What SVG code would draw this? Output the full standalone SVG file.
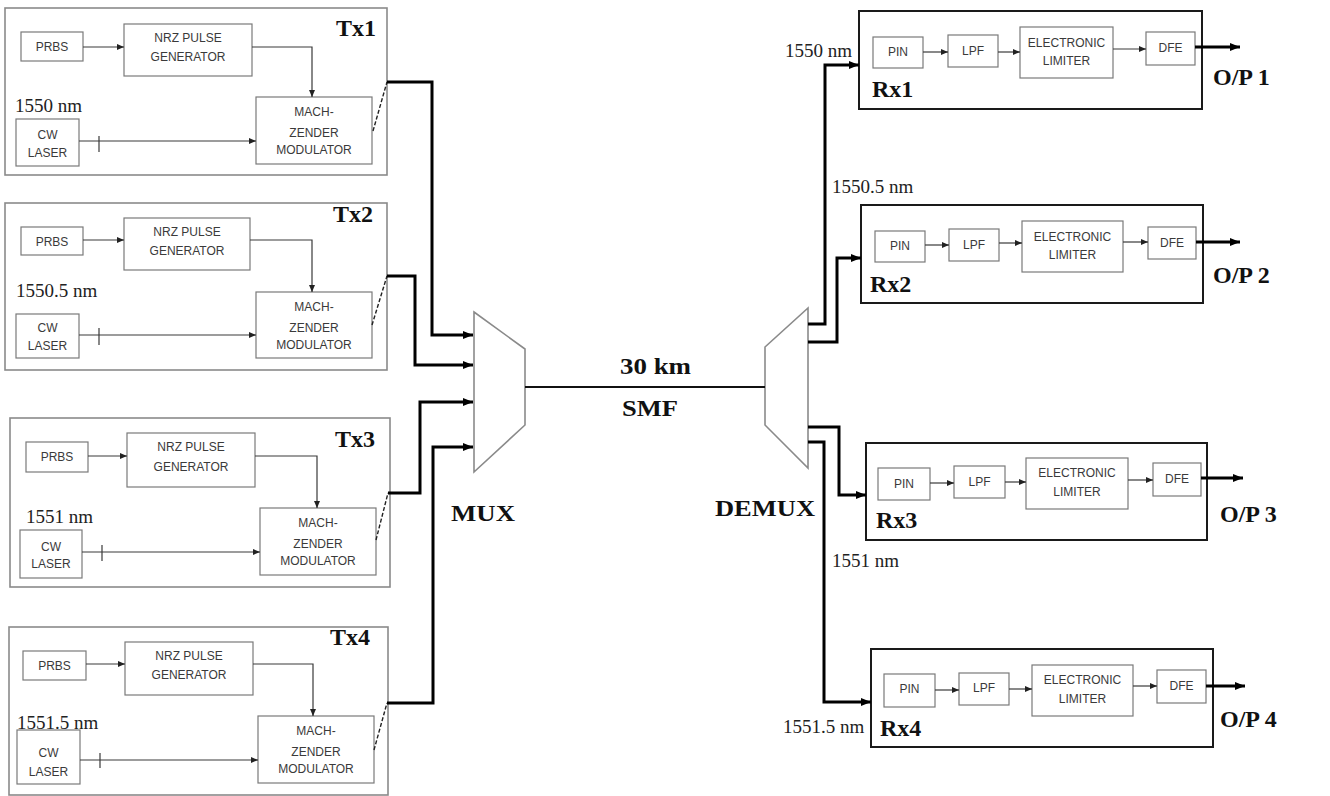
<svg xmlns="http://www.w3.org/2000/svg" width="1330" height="796" viewBox="0 0 1330 796">
<defs>
<style>
.bg{fill:#ffffff}
.outer{fill:none;stroke:#8a8a8a;stroke-width:1.6}
.rxo{fill:none;stroke:#1a1a1a;stroke-width:2}
.inner{fill:#ffffff;stroke:#7a7a7a;stroke-width:1.2}
.thin{fill:none;stroke:#3a3a3a;stroke-width:1.2}
.thick{fill:none;stroke:#000;stroke-width:3}
.dash{fill:none;stroke:#222;stroke-width:1.4;stroke-dasharray:4,2}
.mux{fill:#fff;stroke:#8a8a8a;stroke-width:1.6}
.fiber{fill:none;stroke:#111;stroke-width:2}
.b{font-family:"Liberation Sans",Arial,sans-serif;font-size:12px;fill:#3a3a3a;text-anchor:middle}
.wl{font-family:"Liberation Serif","Times New Roman",serif;font-size:19px;fill:#222}
.lbl{font-family:"Liberation Serif","Times New Roman",serif;font-size:24px;font-weight:bold;fill:#111}
</style>
<marker id="ah" markerUnits="userSpaceOnUse" markerWidth="10" markerHeight="10" refX="10" refY="5" orient="auto"><path d="M0,1 L10,5 L0,9 z" fill="#000"/></marker>
<marker id="as" markerUnits="userSpaceOnUse" markerWidth="7" markerHeight="7" refX="7" refY="3.5" orient="auto"><path d="M0,0.5 L7,3.5 L0,6.5 z" fill="#222"/></marker>
</defs>
<rect class="bg" x="0" y="0" width="1330" height="796"/>

<g id="tx1">
<rect class="outer" x="5" y="8" width="382" height="167"/>
<rect class="inner" x="21" y="32" width="62" height="29"/><text class="b" x="52" y="51">PRBS</text>
<rect class="inner" x="124" y="24" width="128" height="52"/><text class="b" x="188" y="42">NRZ PULSE</text><text class="b" x="188" y="61">GENERATOR</text>
<rect class="inner" x="256" y="97" width="116" height="67"/><text class="b" x="314" y="116">MACH-</text><text class="b" x="314" y="137">ZENDER</text><text class="b" x="314" y="154">MODULATOR</text>
<rect class="inner" x="16" y="119" width="63" height="47"/><text class="b" x="47.5" y="139">CW</text><text class="b" x="47.5" y="157">LASER</text>
<path class="thin" d="M83,47 H124" marker-end="url(#as)"/>
<path class="thin" d="M252,47 H312 V97" marker-end="url(#as)"/>
<path class="thin" d="M79,141 H256" marker-end="url(#as)"/>
<path class="thin" d="M99,136 V152"/>
<text class="wl" x="15" y="112" font-size="20">1550 nm</text>
<text class="lbl" x="336" y="36">Tx1</text>
<path class="dash" d="M373,131 L387,82"/>
</g>

<g id="tx2">
<rect class="outer" x="5" y="203" width="382" height="167"/>
<rect class="inner" x="21" y="227" width="62" height="28"/><text class="b" x="52" y="246">PRBS</text>
<rect class="inner" x="124" y="218" width="126" height="52"/><text class="b" x="187" y="236">NRZ PULSE</text><text class="b" x="187" y="255">GENERATOR</text>
<rect class="inner" x="256" y="292" width="116" height="66"/><text class="b" x="314" y="311">MACH-</text><text class="b" x="314" y="332">ZENDER</text><text class="b" x="314" y="349">MODULATOR</text>
<rect class="inner" x="16" y="314" width="63" height="44"/><text class="b" x="47.5" y="332">CW</text><text class="b" x="47.5" y="350">LASER</text>
<path class="thin" d="M83,240 H124" marker-end="url(#as)"/>
<path class="thin" d="M250,240 H312 V292" marker-end="url(#as)"/>
<path class="thin" d="M79,335 H256" marker-end="url(#as)"/>
<path class="thin" d="M99,328 V345"/>
<text class="wl" x="16" y="297" font-size="20">1550.5 nm</text>
<text class="lbl" x="333" y="222">Tx2</text>
<path class="dash" d="M372,325 L387,276"/>
</g>

<g id="tx3">
<rect class="outer" x="10" y="418" width="380" height="169"/>
<rect class="inner" x="26" y="442" width="62" height="30"/><text class="b" x="57" y="461">PRBS</text>
<rect class="inner" x="127" y="433" width="128" height="54"/><text class="b" x="191" y="451">NRZ PULSE</text><text class="b" x="191" y="471">GENERATOR</text>
<rect class="inner" x="260" y="508" width="116" height="67"/><text class="b" x="318" y="527">MACH-</text><text class="b" x="318" y="548">ZENDER</text><text class="b" x="318" y="565">MODULATOR</text>
<rect class="inner" x="20" y="530" width="62" height="48"/><text class="b" x="51" y="551">CW</text><text class="b" x="51" y="568">LASER</text>
<path class="thin" d="M88,456 H127" marker-end="url(#as)"/>
<path class="thin" d="M255,456 H317 V508" marker-end="url(#as)"/>
<path class="thin" d="M82,552 H260" marker-end="url(#as)"/>
<path class="thin" d="M102,545 V561"/>
<text class="wl" x="26" y="523" font-size="20">1551 nm</text>
<text class="lbl" x="335" y="447">Tx3</text>
<path class="dash" d="M376,540 L388,493"/>
</g>

<g id="tx4">
<rect class="outer" x="9" y="627" width="379" height="168"/>
<rect class="inner" x="23" y="651" width="63" height="29"/><text class="b" x="54.5" y="670">PRBS</text>
<rect class="inner" x="125" y="642" width="128" height="53"/><text class="b" x="189" y="660">NRZ PULSE</text><text class="b" x="189" y="679">GENERATOR</text>
<rect class="inner" x="258" y="716" width="116" height="67"/><text class="b" x="316" y="735">MACH-</text><text class="b" x="316" y="756">ZENDER</text><text class="b" x="316" y="773">MODULATOR</text>
<rect class="inner" x="17" y="730" width="63" height="54"/><text class="b" x="48.5" y="757">CW</text><text class="b" x="48.5" y="776">LASER</text>
<path class="thin" d="M86,664 H125" marker-end="url(#as)"/>
<path class="thin" d="M253,664 H313 V716" marker-end="url(#as)"/>
<path class="thin" d="M80,760 H258" marker-end="url(#as)"/>
<path class="thin" d="M100,753 V768"/>
<text class="wl" x="17" y="729" font-size="20">1551.5 nm</text>
<text class="lbl" x="330" y="645">Tx4</text>
<path class="dash" d="M374,750 L387,703"/>
</g>

<g id="mux">
<polygon class="mux" points="474,312 525,349 525,425 474,472"/>
<text class="lbl" x="451" y="521" font-size="26" textLength="64" lengthAdjust="spacingAndGlyphs">MUX</text>
</g>

<g id="demux">
<polygon class="mux" points="765,347 808,308 808,468 765,425"/>
<text class="lbl" x="715" y="516" font-size="26" textLength="100" lengthAdjust="spacingAndGlyphs">DEMUX</text>
</g>

<g id="fiber">
<text class="lbl" x="620" y="374" font-size="23" textLength="71" lengthAdjust="spacingAndGlyphs">30 km</text>
<text class="lbl" x="622" y="416" font-size="22" textLength="56" lengthAdjust="spacingAndGlyphs">SMF</text>
</g>

<g id="rx1">
<rect class="rxo" x="859" y="11" width="343" height="98"/>
<rect class="inner" x="873" y="37" width="50" height="31"/><text class="b" x="898" y="56">PIN</text>
<rect class="inner" x="948" y="35" width="50" height="32"/><text class="b" x="973" y="55">LPF</text>
<rect class="inner" x="1020" y="27" width="93" height="51"/><text class="b" x="1066.5" y="47">ELECTRONIC</text><text class="b" x="1066.5" y="65">LIMITER</text>
<rect class="inner" x="1146" y="32" width="49" height="33"/><text class="b" x="1170.5" y="52">DFE</text>
<path class="thin" d="M923,52 H948" marker-end="url(#as)"/>
<path class="thin" d="M998,52 H1020" marker-end="url(#as)"/>
<path class="thin" d="M1113,49 H1146" marker-end="url(#as)"/>
<path class="thick" d="M1195,47 H1240" marker-end="url(#ah)"/>
<text class="lbl" x="872" y="97">Rx1</text>
<text class="lbl" x="1213" y="85">O/P 1</text>
<text class="wl" x="785" y="57">1550 nm</text>
</g>

<g id="rx2">
<rect class="rxo" x="861" y="205" width="342" height="98"/>
<rect class="inner" x="875" y="231" width="50" height="31"/><text class="b" x="900" y="250">PIN</text>
<rect class="inner" x="949" y="229" width="50" height="32"/><text class="b" x="974" y="249">LPF</text>
<rect class="inner" x="1022" y="221" width="101" height="51"/><text class="b" x="1072.5" y="241">ELECTRONIC</text><text class="b" x="1072.5" y="259">LIMITER</text>
<rect class="inner" x="1148" y="227" width="48" height="32"/><text class="b" x="1172" y="247">DFE</text>
<path class="thin" d="M925,245 H949" marker-end="url(#as)"/>
<path class="thin" d="M999,243 H1022" marker-end="url(#as)"/>
<path class="thin" d="M1123,242 H1148" marker-end="url(#as)"/>
<path class="thick" d="M1196,242 H1240" marker-end="url(#ah)"/>
<text class="lbl" x="870" y="292">Rx2</text>
<text class="lbl" x="1213" y="283">O/P 2</text>
<text class="wl" x="832" y="193">1550.5 nm</text>
</g>

<g id="rx3">
<rect class="rxo" x="866" y="443" width="341" height="97"/>
<rect class="inner" x="878" y="468" width="52" height="32"/><text class="b" x="904" y="488">PIN</text>
<rect class="inner" x="954" y="466" width="51" height="32"/><text class="b" x="979.5" y="486">LPF</text>
<rect class="inner" x="1026" y="458" width="102" height="51"/><text class="b" x="1077" y="477">ELECTRONIC</text><text class="b" x="1077" y="496">LIMITER</text>
<rect class="inner" x="1153" y="463" width="48" height="33"/><text class="b" x="1177" y="483">DFE</text>
<path class="thin" d="M930,483 H954" marker-end="url(#as)"/>
<path class="thin" d="M1005,482 H1026" marker-end="url(#as)"/>
<path class="thin" d="M1128,480 H1153" marker-end="url(#as)"/>
<path class="thick" d="M1201,478 H1243" marker-end="url(#ah)"/>
<text class="lbl" x="876" y="528">Rx3</text>
<text class="lbl" x="1220" y="522">O/P 3</text>
<text class="wl" x="832" y="567">1551 nm</text>
</g>

<g id="rx4">
<rect class="rxo" x="871" y="649" width="342" height="98"/>
<rect class="inner" x="884" y="674" width="51" height="33"/><text class="b" x="909.5" y="693">PIN</text>
<rect class="inner" x="959" y="673" width="50" height="32"/><text class="b" x="984" y="692">LPF</text>
<rect class="inner" x="1032" y="665" width="101" height="51"/><text class="b" x="1082.5" y="684">ELECTRONIC</text><text class="b" x="1082.5" y="703">LIMITER</text>
<rect class="inner" x="1157" y="670" width="49" height="33"/><text class="b" x="1181.5" y="690">DFE</text>
<path class="thin" d="M935,690 H959" marker-end="url(#as)"/>
<path class="thin" d="M1009,689 H1032" marker-end="url(#as)"/>
<path class="thin" d="M1133,686 H1157" marker-end="url(#as)"/>
<path class="thick" d="M1206,686 H1245" marker-end="url(#ah)"/>
<text class="lbl" x="880" y="736">Rx4</text>
<text class="lbl" x="1220" y="727">O/P 4</text>
<text class="wl" x="783" y="733">1551.5 nm</text>
</g>

<g id="connectors">
<path class="thick" d="M387,82 H432 V335 H473" marker-end="url(#ah)"/>
<path class="thick" d="M387,276 H415 V365 H473" marker-end="url(#ah)"/>
<path class="thick" d="M388,493 H420 V402 H473" marker-end="url(#ah)"/>
<path class="thick" d="M387,703 H433 V447 H473" marker-end="url(#ah)"/>
<path class="fiber" d="M525,387 H765"/>
<path class="thick" d="M808,324 H825 V65 H859" marker-end="url(#ah)"/>
<path class="thick" d="M808,342 H837 V258 H861" marker-end="url(#ah)"/>
<path class="thick" d="M808,427 H839 V495 H866" marker-end="url(#ah)"/>
<path class="thick" d="M808,442 H824 V702 H871" marker-end="url(#ah)"/>
</g>
</svg>
